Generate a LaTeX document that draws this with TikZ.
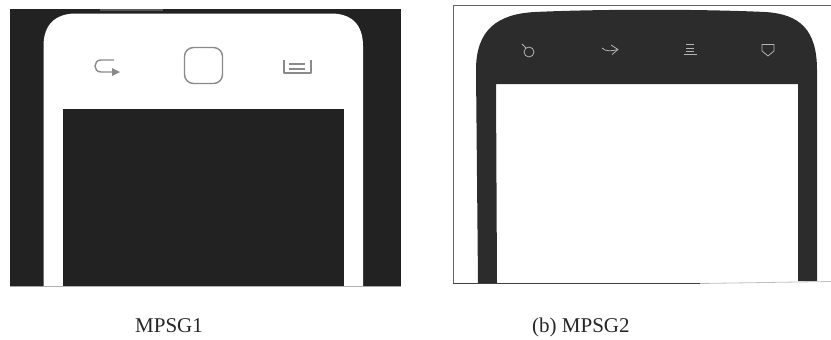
\documentclass[tikz,border=0pt]{standalone}
\usepackage{fontspec}
\setmainfont{Liberation Serif}
\usetikzlibrary{arrows.meta}
\definecolor{panelA}{HTML}{222222}
\definecolor{panelB}{HTML}{2C2C2C}
\definecolor{iconA}{HTML}{8A8A8A}
\definecolor{iconB}{HTML}{B4B4B4}
\tikzset{
  iconl/.style={draw=iconA,line width=1.4pt,line join=round},
  iconr/.style={draw=iconB,line width=.8pt,line join=round},
  captext/.style={font=\fontsize{21}{24}\selectfont,text=black!85,inner sep=0pt,anchor=base west},
}
\begin{document}
\begin{tikzpicture}[x=1pt,y=-1pt]
\useasboundingbox (0,0) rectangle (831,340);
% left panel
\fill[panelA] (10,9) rectangle (400.5,286);
\fill[black!65] (100,9) rectangle (163,11);
\draw[black!35,line width=.6pt] (10,286.3) -- (400.5,286.3);
\fill[white] (43.5,286) -- (43.5,46) .. controls (43.5,24) and (56,13.5) .. (76,13.5)
  -- (331,13.5) .. controls (351,13.5) and (363,24) .. (363,46) -- (363,286) -- cycle;
\fill[panelA] (62.5,109) rectangle (344,286);
\draw[iconl,rounded corners=9pt] (184.5,47.5) rectangle (222.5,83.5);
\draw[iconl] (114,60) -- (101,60) .. controls (93,60) and (93,72) .. (101,72) -- (114,72);
\fill[iconA] (112,68) -- (120,72) -- (112,76) -- cycle;
\draw[iconl] (284,60) -- (284,73) -- (311,73) -- (311,60);
\draw[iconl] (289,64) -- (305,64);
\draw[iconl] (289,69) -- (305,69);
% right panel
\fill[panelB] (478,283) -- (476,70) .. controls (476,30) and (497,14) .. (535,12)
  .. controls (600,9) and (700,9) .. (765,12)
  .. controls (800,14) and (817,30) .. (817,70) -- (817,281) -- (798,281) -- (798,84) -- (496,84) -- (497,283) -- cycle;
\draw[black!60,line width=.8pt] (453,283.5) -- (453,5.5) -- (831,5.5);
\draw[black!75,line width=.8pt] (453,283.5) -- (700,283.5);
\draw[black!25,line width=.8pt] (700,283.5) -- (831,281.5);
\draw[iconr] (529,52) circle (5);
\draw[iconr] (522,44) -- (526,48);
\draw[iconr] (602,48) .. controls (606,52) and (612,51) .. (618,49.5);
\draw[iconr] (611,45) -- (618,49.5) -- (612,54.5);
\draw[iconr] (686,44.5) -- (694,44.5);
\draw[iconr] (686,48) -- (694,48);
\draw[iconr] (686,51) -- (694,51);
\draw[iconr] (683.5,54.5) -- (696.5,54.5);
\draw[iconr] (762,44.5) -- (774,44.5) -- (774,51) -- (768,56) -- (762,51) -- cycle;
% captions
\node[captext] (capa) at (135,332) {MPSG1};
\node[captext] (capb) at (532,332) {(b) MPSG2};
\end{tikzpicture}
\end{document}
